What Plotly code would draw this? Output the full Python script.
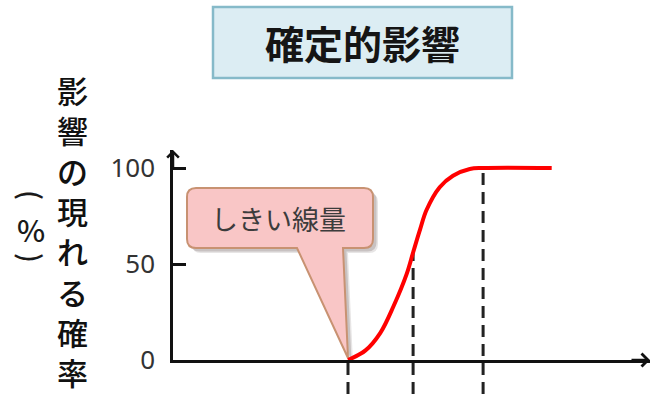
import numpy as np
import plotly.graph_objects as go

# Dose (arbitrary units) against the probability that the effect appears (%)
dose = [2.5, 2.75, 2.96, 3.15, 3.34, 3.43, 3.53, 3.62, 3.81, 4.0, 4.24, 4.43, 5.41]
probability = [0, 5, 14, 28, 45, 56, 68, 78, 90, 96, 99.5, 100, 100]

# Doses marked with dashed guide lines
guide_doses = [2.5, 3.43, 4.43]
threshold_dose = 2.5

y_tick_values = [0, 50, 100]
y_tick_labels = ["0", "50", "100"]

title_text = "確定的影響"
y_label = "影響の現れる確率"
y_unit = "%"
callout_text = "しきい線量"

# ---- page geometry -------------------------------------------------------
W, H = 652, 394
L, R, T, B = 173, 2, 150, 34
PW, PH = W - L - R, H - T - B
X_MAX = PW / 70.0          # 70 px per dose unit
Y_MAX = PH / 1.92          # 1.92 px per percent

JP = "Noto Sans CJK JP"


def paper_x(px):
    return (px - L) / PW


def paper_y(py):
    return (H - B - py) / PH


def data_x(px):
    return (px - L) / PW * X_MAX


def data_y(py):
    return (H - B - py) / PH * Y_MAX


def callout_path(off=0.0):
    """Rounded speech bubble whose pointer ends at the threshold dose."""
    left, right, top, bottom, r = 187, 373, 188, 248, 9
    base_l, base_r = 297, 343
    tip_px = L + threshold_dose / X_MAX * PW
    tip_py = H - B - 2
    pts = lambda x, y: f"{data_x(x + off):.4f},{data_y(y + off):.4f}"
    return (
        f"M{pts(left + r, top)} L{pts(right - r, top)} "
        f"Q{pts(right, top)} {pts(right, top + r)} "
        f"L{pts(right, bottom - r)} Q{pts(right, bottom)} {pts(right - r, bottom)} "
        f"L{pts(base_r, bottom)} L{pts(tip_px, tip_py)} L{pts(base_l, bottom)} "
        f"L{pts(left + r, bottom)} Q{pts(left, bottom)} {pts(left, bottom - r)} "
        f"L{pts(left, top + r)} Q{pts(left, top)} {pts(left + r, top)} Z"
    )


def label(text, px, py, size, color="#1a1a1a", family=JP, angle=0, weight=400):
    return dict(text=text, xref="paper", yref="paper",
                x=paper_x(px), y=paper_y(py), xanchor="center", yanchor="middle",
                showarrow=False, textangle=angle,
                font=dict(family=family, size=size, color=color, weight=weight))


fig = go.Figure()

fig.add_trace(go.Scatter(
    x=dose, y=probability, mode="lines",
    line=dict(color="#ff0000", width=4, shape="spline", smoothing=1.0),
    hoverinfo="skip", showlegend=False,
))

shapes = []

# dashed guides: from the curve down past the dose axis
for g in guide_doses:
    top = float(np.interp(g, dose, probability))
    shapes.append(dict(
        type="line", xref="x", yref="paper",
        x0=g, x1=g, y0=paper_y(H), y1=top / Y_MAX,
        line=dict(color="#222222", width=3, dash="12px,7px"),
        layer="below",
    ))

# speech bubble shadow and body
for off, alpha in [(5, 0.12), (3.5, 0.18)]:
    shapes.append(dict(
        type="path", xref="x", yref="y", path=callout_path(off),
        fillcolor=f"rgba(60,40,40,{alpha})", line=dict(width=0), layer="below",
    ))
shapes.append(dict(
    type="path", xref="x", yref="y", path=callout_path(),
    fillcolor="#f9c6c6", line=dict(color="#c89272", width=2), layer="below",
))

# title box
shapes.append(dict(
    type="rect", xref="paper", yref="paper",
    x0=paper_x(213), x1=paper_x(512), y0=paper_y(78), y1=paper_y(7),
    fillcolor="#dcedf3", line=dict(color="#86bac9", width=2.5),
))

annotations = [
    label(title_text, 362, 42, 39, color="#151515", weight=700),
    label(callout_text, 278, 218, 27, color="#3c3c3c"),
    label("<br>".join(y_label), 72, 230, 31, color="#111111", weight=500),
    label("(", 32, 195, 28, angle=90, weight=500),
    label(y_unit, 31, 229, 30, weight=500),
    label(")", 32, 258, 28, angle=90, weight=500),
    # axis arrowheads
    dict(text="", xref="paper", yref="paper", x=1, y=0, ax=-20, ay=0,
         showarrow=True, arrowhead=4, arrowsize=1, arrowwidth=2.5,
         arrowcolor="#111111"),
    dict(text="", xref="paper", yref="paper", x=0, y=1, ax=0, ay=20,
         showarrow=True, arrowhead=4, arrowsize=0.9, arrowwidth=2.5,
         arrowcolor="#111111"),
]

fig.update_layout(
    width=W, height=H, autosize=False,
    margin=dict(l=L, r=R, t=T, b=B, pad=0),
    paper_bgcolor="white", plot_bgcolor="white",
    shapes=shapes, annotations=annotations, showlegend=False,
)
fig.update_xaxes(
    range=[0, X_MAX], showgrid=False, zeroline=False,
    showline=True, linecolor="#111111", linewidth=2.5,
    showticklabels=False, ticks="",
)
fig.update_yaxes(
    range=[0, Y_MAX], showgrid=False, zeroline=False,
    showline=True, linecolor="#111111", linewidth=2.5,
    tickvals=y_tick_values, ticktext=y_tick_labels,
    ticks="inside", ticklen=13, tickwidth=2.5, tickcolor="#111111",
    ticklabelstandoff=10,
    tickfont=dict(family="Noto Sans", size=26, color="#333333"),
)

fig.write_html("out.html")
